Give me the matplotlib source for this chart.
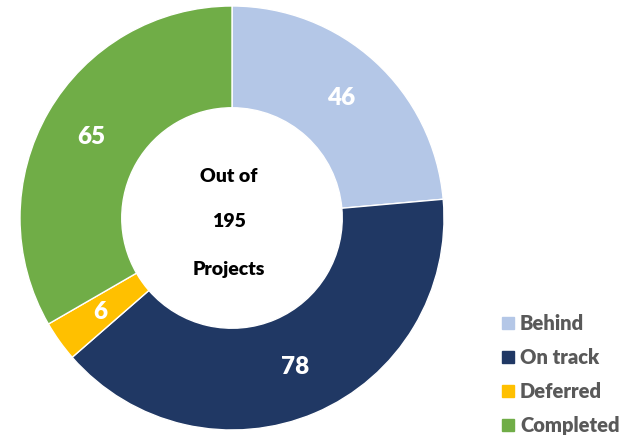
import matplotlib.pyplot as plt

labels = ["Behind", "On track", "Deferred", "Completed"]
values = [46, 78, 6, 65]
colors = ["#b4c7e7", "#203864", "#ffc000", "#70ad47"]
center_lines = ["Out of", "195", "Projects"]

plt.rcParams['font.family'] = ['Lato', 'DejaVu Sans']

fig = plt.figure(figsize=(6.3, 4.4), dpi=100)
W, H = 630, 440
cx, cy, r = 232, 218, 212
ax = fig.add_axes([(cx - r) / W, (H - cy - r) / H, 2 * r / W, 2 * r / H])

wedges, texts, autotexts = ax.pie(
    values, colors=colors, startangle=90, counterclock=False,
    radius=1.0, wedgeprops=dict(width=0.48, edgecolor="white", linewidth=1),
    autopct=lambda p: "{:.0f}".format(p * sum(values) / 100),
    pctdistance=0.765, textprops=dict(color="white", fontsize=17.5, fontweight="heavy"))
ax.set_xlim(-1, 1)
ax.set_ylim(-1, 1)
ax.set_aspect("auto")

# center text
for txt, py in zip(center_lines, [176, 221, 269]):
    fig.text(229 / W, 1 - py / H, txt, ha="center", va="center",
             fontsize=14, fontweight="heavy", color="black")

# legend
for i, (lab, col) in enumerate(zip(labels, colors)):
    py = 323 + i * 34
    fig.patches.append(plt.Rectangle((502 / W, 1 - (py + 6) / H), 12 / W, 12 / H,
                                     transform=fig.transFigure, color=col, figure=fig))
    fig.text(520 / W, 1 - py / H, lab, ha="left", va="center",
             fontsize=14.5, fontweight="heavy", color="#595959")

fig.savefig("out.png", dpi=100)
